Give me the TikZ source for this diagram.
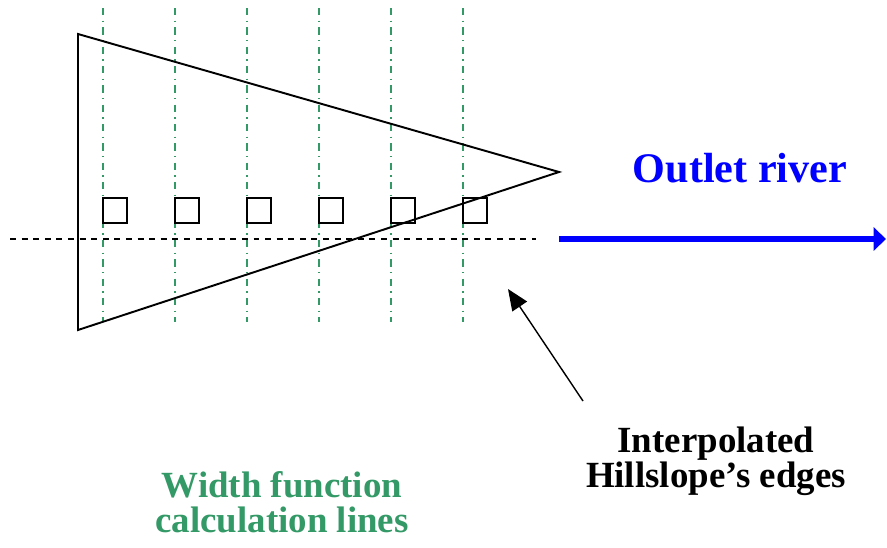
\documentclass[tikz,border=0pt]{standalone}
\usepackage{fontspec}
\setmainfont{Liberation Serif}
\usetikzlibrary{arrows.meta}
\definecolor{seagreen}{RGB}{51,153,102}
\tikzset{
    calcline/.style={seagreen, line width=0.9pt, dash pattern=on 4.2pt off 3pt on 0.8pt off 3pt},
    edgeline/.style={line width=1.1pt},
    bigtext/.style={font=\bfseries\fontsize{21}{19.5}\selectfont, align=center, anchor=base}
}
\begin{document}
\begin{tikzpicture}[x=0.02cm, y=-0.02cm]
    \useasboundingbox (0,0) rectangle (887,548);
    % width function lines
    \foreach \x in {103,175,247,319,391,463}
        \draw[calcline] (\x,8) -- (\x,322);
    % hillslope
    \draw[edgeline] (78,34) -- (559,172) -- (78,330) -- cycle;
    \draw[line width=0.8pt, dash pattern=on 3.4pt off 3.2pt] (10,239) -- (536,239);
    \foreach \x in {103,175,247,319,391,463}
        \draw[edgeline] (\x,198) rectangle ++(24,25);
    % river
    \coordinate (riverstart) at (559,239);
    \coordinate (riverend) at (886,239);
    \draw[blue, line width=3.4pt, -{Triangle[length=7pt,width=13pt]}] (riverstart) -- (riverend);
    \node[bigtext, blue, font=\bfseries\fontsize{24}{28}\selectfont] (outlet) at (740,182) {Outlet river};
    % labels
    \node[bigtext] (edges) at (716,487) {Interpolated\\Hillslope's edges};
    \node[bigtext, seagreen] (widthfn) at (282,532) {Width function\\calculation lines};
    \coordinate (edgept) at (508,289);
    \coordinate (tailpt) at (583,401);
    \draw[line width=0.8pt, -{Triangle[length=12pt,width=10pt]}] (tailpt) -- (edgept);
\end{tikzpicture}
\end{document}
